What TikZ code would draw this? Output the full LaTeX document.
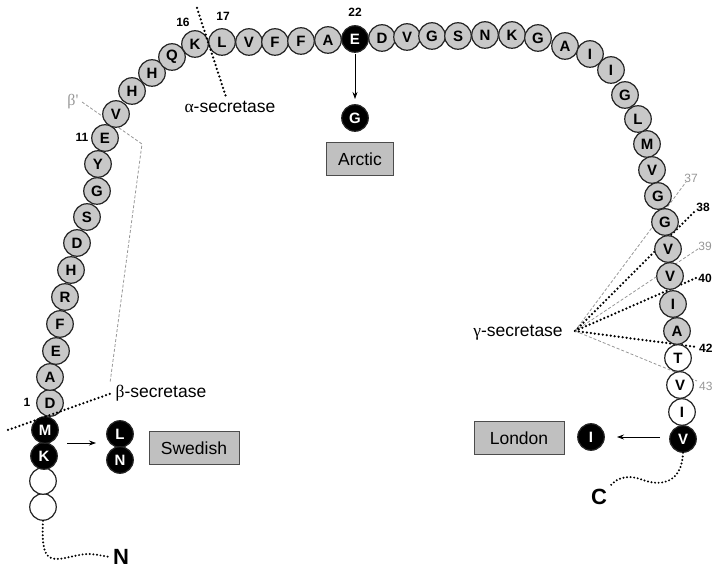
\documentclass[tikz,border=0pt]{standalone}
\usepackage{fontspec}
\setmainfont{Liberation Sans}
\newfontfamily\grk{Liberation Serif}
\usetikzlibrary{arrows.meta}
\definecolor{resgray}{RGB}{200,200,200}
\definecolor{boxgray}{RGB}{192,192,192}
\definecolor{lgray}{RGB}{150,150,150}
\begin{document}
\begin{tikzpicture}[x=1pt,y=-1pt,
  res/.style={circle,draw=black!85,line width=1.2pt,fill=resgray,minimum size=26.5pt,inner sep=0pt,font=\fontsize{15}{15}\selectfont\bfseries},
  resb/.style={res,fill=black,text=white},
  resw/.style={res,fill=white},
  num/.style={font=\fontsize{12}{12}\selectfont\bfseries},
  gnum/.style={font=\fontsize{12}{12}\selectfont,text=lgray},
  lab/.style={font=\fontsize{17.5}{17.5}\selectfont},
  mbox/.style={draw=black!70,fill=boxgray,line width=0.8pt,minimum width=90pt,minimum height=33pt,font=\fontsize{17.5}{17.5}\selectfont},
  dotl/.style={line width=2.5pt,dash pattern=on 0pt off 4pt,line cap=round},
  gdash/.style={lgray,line width=0.8pt,dash pattern=on 3pt off 2pt},
  arr/.style={-{Stealth[length=7pt,width=5pt]},line width=0.8pt},
  term/.style={font=\fontsize{22}{22}\selectfont\bfseries}]
\useasboundingbox (0,0) rectangle (713,569);
\clip (0,0) rectangle (713,569);

% labels and named coordinates
\node[gnum,font=\fontsize{16}{16}\selectfont\grk] (bp) at (73,102) {β'};
\coordinate (bpc) at (142,144);
\coordinate (bpe) at (110,383);
\node[lab] (bsec) at (161,393) {{\grk β}-secretase};
\node[lab] (asec) at (230,107) {{\grk α}-secretase};
\node[lab] (gsec) at (518,333) {{\grk γ}-secretase};
\coordinate (go) at (575,331);
\coordinate (g37) at (686,182);
\coordinate (g38) at (695,211);
\coordinate (g39) at (698,249);
\coordinate (g40) at (696,278);
\coordinate (g42) at (697,347);
\coordinate (g43) at (697,381);
\node[gnum] (n37) at (691,178) {37};
\node[num] (n38) at (703,207) {38};
\node[gnum] (n39) at (705,246) {39};
\node[num] (n40) at (705,278) {40};
\node[num,anchor=west,inner sep=0pt] (n42) at (699,348) {42};
\node[gnum,anchor=west,inner sep=0pt] (n43) at (699,386) {43};
\node[num] (n1) at (27,402) {1};
\node[num] (n11) at (82,137) {11};
\node[num] (n16) at (183,22) {16};
\node[num] (n17) at (223,16) {17};
\node[num] (n22) at (355,12) {22};

% lines behind residues
\draw[gdash] (bp.east) -- (bpc) -- (bpe);
\draw[gdash] (go) -- (g37);
\draw[dotl] (go) -- (g38);
\draw[gdash] (go) -- (g39);
\draw[dotl] (go) -- (g40);
\draw[dotl] (go) -- (g42);
\draw[gdash] (go) -- (g43);

% residues before Abeta
\node[resw] (p4) at (43,507) {};
\node[resw] (p3) at (43,481) {};
\node[resb] (p2) at (44,456) {K};
\node[resb] (p1) at (45,430) {M};

% Abeta residues
\foreach \n/\x/\y/\l/\s in {
 1/50/403/D/res, 2/50/377/A/res, 3/56/351/E/res, 4/60/324/F/res, 5/65/297/R/res,
 6/71/270/H/res, 7/77/243/D/res, 8/87/217/S/res, 9/97/191/G/res, 10/98/164/Y/res,
 11/105/138/E/res, 12/116/114/V/res, 13/132/91/H/res, 14/152/73/H/res, 15/172/57/Q/res,
 16/195/44/K/res, 17/222/42/L/res, 18/249/42/V/res, 19/275/42/F/res, 20/301/41/F/res,
 21/328/40/A/res, 22/355/39/E/resb, 23/382/38/D/res, 24/407/37/V/res, 25/432/36/G/res,
 26/458/36/S/res, 27/485/35/N/res, 28/512/35/K/res, 29/538/38/G/res, 30/565/46/A/res,
 31/590/54/I/res, 32/611/70/I/res, 33/625/95/G/res, 34/638/119/L/res, 35/647/144/M/res,
 36/652/170/V/res, 37/658/196/G/res, 38/665/222/G/res, 39/668/249/V/res, 40/670/276/V/res,
 41/673/304/I/res, 42/677/331/A/res, 43/678/358/T/resw, 44/680/385/V/resw, 45/682/412/I/resw,
 46/683/439/V/resb}
 \node[\s] (a\n) at (\x,\y) {\l};

% cleavage lines on top
\coordinate (as1) at (197,8);
\coordinate (as2) at (226,97);
\draw[dotl] (as1) -- (as2);
\coordinate (bs1) at (8,430);
\draw[dotl] (bs1) -- (bsec.west);

% Arctic
\node[resb] (mg) at (355,118) {G};
\coordinate (ar1) at (355,54);
\coordinate (ar2) at (355,99);
\draw[arr] (ar1) -- (ar2);
\node[mbox,minimum width=67pt] (arctic) at (360,159) {Arctic};

% Swedish
\node[resb] (ml) at (120,434) {L};
\node[resb] (mn) at (120,460) {N};
\coordinate (sw1) at (67,443);
\coordinate (sw2) at (96,443);
\draw[arr] (sw1) -- (sw2);
\node[mbox] (swedish) at (194,448) {Swedish};

% London
\node[resb] (mi) at (591,437) {I};
\coordinate (lo1) at (660,437);
\coordinate (lo2) at (617,437);
\draw[arr] (lo1) -- (lo2);
\node[mbox] (london) at (519,438) {London};

% termini
\node[term] (nterm) at (121,557) {N};
\node[term] (cterm) at (599,497) {C};
\draw[line width=2.2pt,dash pattern=on 0pt off 3.6pt,line cap=round]
  (p4.south) .. controls (41,560) and (48,562) .. (70,557) .. controls (88,553) .. (nterm.west);
\draw[line width=2.2pt,dash pattern=on 0pt off 3.6pt,line cap=round]
  (a46.south) .. controls (682,482) and (662,487) .. (643,480) .. controls (625,473) and (615,480) .. (cterm.north east);
\end{tikzpicture}
\end{document}
